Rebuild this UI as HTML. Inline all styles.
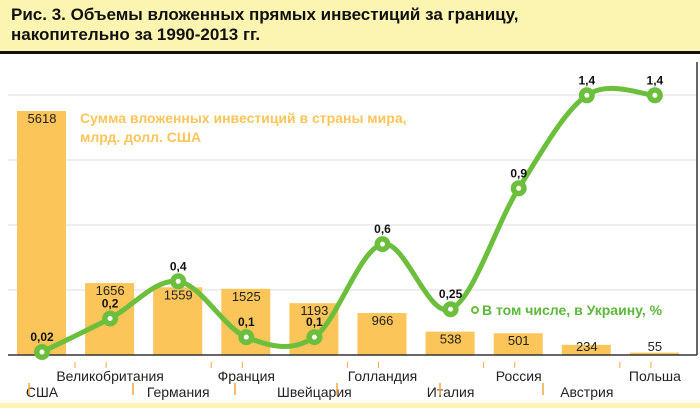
<!DOCTYPE html>
<html><head><meta charset="utf-8"><style>
body{margin:0;width:700px;height:408px;overflow:hidden;background:#fff;font-family:"Liberation Sans",sans-serif}
#hdr{position:absolute;left:0;top:0;width:700px;height:51px;background:#fbf5b1;border-bottom:3px solid #111}
#hdr div{position:absolute;left:11px;top:5px;font-weight:bold;font-size:17px;line-height:20px;color:#111}
#foot{position:absolute;left:0;top:403px;width:700px;height:5px;background:#fbf5b1}
svg{position:absolute;left:0;top:0}
</style></head><body>
<div id="hdr"><div>Рис. 3. Объемы вложенных прямых инвестиций за границу,<br>накопительно за 1990-2013 гг.</div></div>
<div id="foot"></div>
<svg id="c" width="700" height="408"></svg>
<script>
const categories=["США","Великобритания","Германия","Франция","Швейцария","Голландия","Италия","Россия","Австрия","Польша"];
const investValues=[5618,1656,1559,1525,1193,966,538,501,234,55];
const ukraineShare=[0.02,0.2,0.4,0.1,0.1,0.6,0.25,0.9,1.4,1.4];
const shareLabels=["0,02","0,2","0,4","0,1","0,1","0,6","0,25","0,9","1,4","1,4"];
const NS="http://www.w3.org/2000/svg",svg=document.getElementById('c');
function mk(t,a,p){const e=document.createElementNS(NS,t);for(const k in a)e.setAttribute(k,a[k]);(p||svg).appendChild(e);return e;}
const base=355;
const xC=i=>42+i*68.1;
const yBar=v=>base-v*0.04343;
const yLine=v=>355.7-v*186;
[95,160,225,290].forEach(y=>{const g=mk('line',{x1:8,x2:697,y1:y,y2:y,stroke:'#ddd','stroke-width':1});});
const r=mk('line',{x1:697,x2:697,y1:62,y2:base,stroke:'#333','stroke-width':1.5});
investValues.forEach((v,i)=>{
 const b=mk('rect',{x:xC(i)-25,y:yBar(v),width:49,height:base-yBar(v),fill:'#fbc55a'});
 
 const t=mk('text',{x:xC(i),y:Math.min(yBar(v)+12,351),'text-anchor':'middle','font-size':13,fill:'#222'});
 t.textContent=v;
 const lb=mk('text',{x:xC(i),y:i%2?381:397,'text-anchor':'middle','font-size':14,fill:'#222'});
 lb.textContent=categories[i];
 const tk=mk('line',{x1:xC(i)+(i%2?-4:33),x2:xC(i)+(i%2?-4:33),y1:362,y2:368,stroke:'#f6a640','stroke-width':1});
});
[29,133,235,337,440,543].forEach(x=>{const o=mk('line',{x1:x,x2:x,y1:383,y2:395,stroke:'#f6a640','stroke-width':1.5});});
const ax=mk('line',{x1:8,x2:697,y1:base,y2:base,stroke:'#333','stroke-width':1.5});
const pts=ukraineShare.map((v,i)=>[xC(i),yLine(v)]);
let d='M'+pts[0];
for(let i=0;i<pts.length-1;i++){const p0=pts[Math.max(0,i-1)],p1=pts[i],p2=pts[i+1],p3=pts[Math.min(pts.length-1,i+2)];
 d+=` C${p1[0]+(p2[0]-p0[0])/6},${p1[1]+(p2[1]-p0[1])/6} ${p2[0]-(p3[0]-p1[0])/6},${p2[1]-(p3[1]-p1[1])/6} ${p2[0]},${p2[1]}`;}
const ln=mk('path',{d:d,fill:'none',stroke:'#6cbf3c','stroke-width':5});
pts.forEach((p,i)=>{
 const c=mk('circle',{cx:p[0],cy:p[1],r:8,fill:'#6cbf3c'});
 const w=mk('circle',{cx:p[0],cy:p[1],r:2.5,fill:'#fff'});
 const t=mk('text',{x:p[0],y:p[1]-11,'text-anchor':'middle','font-size':12,'font-weight':'bold',fill:'#111'});
 t.textContent=shareLabels[i];
});
const l1=mk('text',{x:80,y:123,'font-size':14,'font-weight':'bold',fill:'#fbc55a'});l1.textContent='Сумма вложенных инвестиций в страны мира,';
const l2=mk('text',{x:80,y:142,'font-size':14,'font-weight':'bold',fill:'#fbc55a'});l2.textContent='млрд. долл. США';
const gc=mk('circle',{cx:475,cy:310,r:3,fill:'none',stroke:'#6cbf3c','stroke-width':2});
const l3=mk('text',{x:482,y:315,'font-size':14,'font-weight':'bold',fill:'#5cb83a'});l3.textContent='В том числе, в Украину, %';
</script>
</body></html>
